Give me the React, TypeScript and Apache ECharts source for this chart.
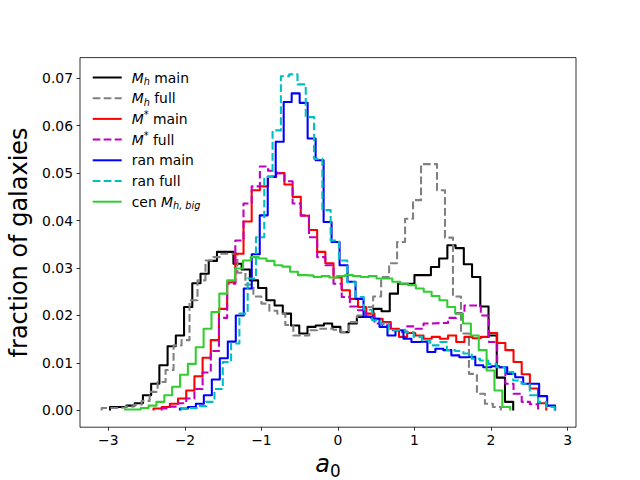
import React, { useEffect, useRef } from "react";
import * as echarts from "echarts";

const FONT = "DejaVu Sans";

const seriesNames = ["Mh main", "Mh full", "M* main", "M* full", "ran main", "ran full", "cen Mh,big"];
const seriesColors = ["#000000", "#808080", "#ff0000", "#bf00bf", "#0000ff", "#00bfbf", "#32cd32"];
const seriesDashed = [false, true, false, true, false, true, false];

// histogram bin layout (left edge of first bin, bin width) for each series, in a0 units
const binStarts = [-2.978, -3.0865, -2.4097, -2.3028, -2.0648, -2.0465, -2.7821];
const binWidths = [0.1075, 0.1043, 0.1069, 0.1069, 0.1043, 0.1084, 0.1027];

const mhMain = [
  0.0007, 0.0007, 0.001, 0.0015, 0.0032, 0.0056, 0.0095, 0.0135, 0.0158, 0.0218,
  0.0268, 0.0288, 0.0315, 0.0334, 0.0334, 0.0309, 0.0297, 0.0274, 0.0258, 0.0232,
  0.0221, 0.0204, 0.0179, 0.0162, 0.0176, 0.0179, 0.0183, 0.0176, 0.0165, 0.0183,
  0.0197, 0.0197, 0.0214, 0.0209, 0.0246, 0.0267, 0.0267, 0.0285, 0.0285, 0.0302,
  0.032, 0.0348, 0.0342, 0.0308, 0.0281, 0.0219, 0.0158, 0.0069, 0.0018,
];
const mhFull = [
  0.0005, 0.0005, 0.0006, 0.0008, 0.0012, 0.002, 0.0039, 0.006, 0.0085, 0.0137,
  0.0148, 0.0232, 0.0274, 0.0316, 0.0323, 0.033, 0.033, 0.029, 0.0265, 0.024,
  0.0225, 0.021, 0.0204, 0.018, 0.0158, 0.0158, 0.0169, 0.0172, 0.0172, 0.017,
  0.0165, 0.0186, 0.02, 0.0218, 0.024, 0.0281, 0.031, 0.0355, 0.0404, 0.0443,
  0.0519, 0.0519, 0.0464, 0.0364, 0.024, 0.0162, 0.0077, 0.0035, 0.0014, 0.0007,
];
const msMain = [
  0.0004, 0.0007, 0.0014, 0.0025, 0.0042, 0.0072, 0.0111, 0.0148, 0.0214, 0.027,
  0.033, 0.0398, 0.0464, 0.0472, 0.0492, 0.05, 0.0476, 0.045, 0.041, 0.038,
  0.0334, 0.031, 0.028, 0.0253, 0.0235, 0.0218, 0.0204, 0.0193, 0.0186, 0.0172,
  0.0155, 0.0163, 0.0158, 0.0151, 0.0155, 0.0151, 0.0158, 0.0144, 0.0155, 0.0152,
  0.0155, 0.0163, 0.0142, 0.0127, 0.0102, 0.0076, 0.0046, 0.0015,
];
const msFull = [
  0.0004, 0.0008, 0.0015, 0.0025, 0.0045, 0.008, 0.0125, 0.0195, 0.0267,
  0.0358, 0.0436, 0.0472, 0.0514, 0.0505, 0.05, 0.0483, 0.0436, 0.0411, 0.0365,
  0.0323, 0.0306, 0.0267, 0.0239, 0.0219, 0.0211, 0.0197, 0.0183, 0.018, 0.0169,
  0.0165, 0.0177, 0.0172, 0.0183, 0.0184, 0.0184, 0.0195, 0.0205, 0.0221, 0.0221,
  0.02, 0.0144, 0.0091, 0.0056, 0.0035, 0.0018, 0.0013,
];
const ranMain = [
  0.0004, 0.0007, 0.0014, 0.0032, 0.0065, 0.011, 0.0145, 0.02, 0.0257, 0.0329,
  0.0411, 0.0492, 0.0566, 0.065, 0.0668, 0.0648, 0.0573, 0.0527, 0.0397, 0.0355,
  0.0306, 0.0271, 0.0235, 0.0197, 0.0193, 0.0176, 0.0158, 0.0169, 0.0151, 0.0144,
  0.0145, 0.0123, 0.013, 0.0127, 0.0116, 0.0112, 0.0113, 0.0095, 0.0091, 0.0093,
  0.0091, 0.0077, 0.007, 0.0056, 0.0056, 0.003, 0.001,
];
const ranFull = [
  0.0003, 0.0005, 0.0009, 0.0018, 0.0045, 0.0102, 0.0141, 0.0204, 0.0278, 0.0365,
  0.0492, 0.059, 0.0704, 0.0708, 0.0687, 0.0618, 0.053, 0.0422, 0.0358, 0.0316,
  0.027, 0.0239, 0.0212, 0.019, 0.0183, 0.0169, 0.017, 0.0165, 0.0155, 0.0148,
  0.0137, 0.0144, 0.0127, 0.0125, 0.012, 0.0109, 0.0105, 0.0098, 0.0091, 0.0081,
  0.0063, 0.0056, 0.0032, 0.0018, 0.0007,
];
const cenMhBig = [
  0.0002, 0.0002, 0.0005, 0.001, 0.0018, 0.0032, 0.005, 0.0075, 0.0098, 0.0133,
  0.0172, 0.0207, 0.0246, 0.0274, 0.0299, 0.0316, 0.0323, 0.032, 0.0315, 0.0306,
  0.0303, 0.0292, 0.0285, 0.0284, 0.0281, 0.0283, 0.028, 0.0283, 0.0285, 0.0283,
  0.0281, 0.0283, 0.0278, 0.0278, 0.0271, 0.0267, 0.0264, 0.0257, 0.025, 0.0241,
  0.0232, 0.0218, 0.0204, 0.0183, 0.0158, 0.0127, 0.0084, 0.0042, 0.0007,
];

const seriesValues = [mhMain, mhFull, msMain, msFull, ranMain, ranFull, cenMhBig];

const legendLabels: Record<string, string> = {
  "Mh main": "{i|M}{s|h} main",
  "Mh full": "{i|M}{s|h} full",
  "M* main": "{i|M}{p|*} main",
  "M* full": "{i|M}{p|*} full",
  "ran main": "ran main",
  "ran full": "ran full",
  "cen Mh,big": "cen {i|M}{s|h, big}",
};

const xTicks = [-3, -2, -1, 0, 1, 2, 3];
const yTicks = [0, 0.01, 0.02, 0.03, 0.04, 0.05, 0.06, 0.07];
const xRange = [-3.37, 3.11];
const yRange = [-0.00354, 0.07434];

function outline(start: number, width: number, vals: number[]) {
  const pts: number[][] = [[start, 0]];
  vals.forEach((v, i) => {
    const x0 = start + i * width;
    pts.push([x0, v], [x0 + width, v]);
  });
  pts.push([start + vals.length * width, 0]);
  return pts;
}

export default function App() {
  const ref = useRef<HTMLDivElement>(null);
  useEffect(() => {
    if (!ref.current) return;
    const chart = echarts.init(ref.current, null, { renderer: "svg", width: 640, height: 480 });
    const tickStyle = { color: "#000", width: 0.8 };
    const series = seriesNames.map((name, k) => ({
      name,
      type: "line",
      data: outline(binStarts[k], binWidths[k], seriesValues[k]),
      symbol: "none",
      showSymbol: false,
      clip: true,
      lineStyle: {
        color: seriesColors[k],
        width: 2.08,
        type: seriesDashed[k] ? [7.7, 3.3] : "solid",
        join: "round",
      },
      itemStyle: { color: seriesColors[k] },
      emphasis: { disabled: true },
    }));
    chart.setOption({
      animation: false,
      backgroundColor: "#ffffff",
      grid: {
        left: 80,
        right: 64,
        top: 57.6,
        bottom: 52.8,
        outerBoundsMode: "none",
        containLabel: false,
        show: true,
        borderColor: "#000",
        borderWidth: 0.8,
        backgroundColor: "transparent",
      },
      legend: {
        data: seriesNames,
        orient: "vertical",
        left: 91.7,
        top: 68.5,
        padding: 0,
        itemWidth: 29,
        itemHeight: 18,
        itemGap: 2.7,
        selectedMode: false,
        itemStyle: { opacity: 0 },
        formatter: (name: string) => legendLabels[name] || name,
        textStyle: {
          fontFamily: FONT,
          fontSize: 13.9,
          color: "#000",
          lineHeight: 18,
          padding: [0, 0, 0, 5],
          rich: {
            i: { fontFamily: FONT, fontStyle: "italic", fontSize: 13.9, lineHeight: 18, color: "#000" },
            s: { fontFamily: FONT, fontStyle: "italic", fontSize: 9.7, color: "#000", verticalAlign: "bottom" },
            p: { fontFamily: FONT, fontSize: 9.7, color: "#000", verticalAlign: "top" },
          },
        },
      },
      xAxis: {
        type: "value",
        min: xRange[0],
        max: xRange[1],
        name: "{i|a}{s|0}",
        nameLocation: "middle",
        nameGap: 15,
        nameTextStyle: {
          fontFamily: FONT,
          fontSize: 24,
          color: "#000",
          rich: {
            i: { fontFamily: FONT, fontStyle: "italic", fontSize: 24, lineHeight: 30, color: "#000" },
            s: { fontFamily: FONT, fontSize: 16.8, color: "#000", verticalAlign: "bottom" },
          },
        },
        axisLine: { show: false, onZero: false },
        splitLine: { show: false },
        axisTick: { show: true, length: 3.5, lineStyle: tickStyle, customValues: xTicks },
        axisLabel: {
          customValues: xTicks,
          formatter: (v: number) => String(v).replace("-", "\u2212"),
          fontFamily: FONT,
          fontSize: 13.9,
          color: "#000",
          margin: 6,
        },
      },
      yAxis: {
        type: "value",
        min: yRange[0],
        max: yRange[1],
        name: "fraction of galaxies",
        nameLocation: "middle",
        nameRotate: 90,
        nameGap: 38,
        nameTextStyle: { fontFamily: FONT, fontSize: 24, color: "#000" },
        axisLine: { show: false, onZero: false },
        splitLine: { show: false },
        axisTick: { show: true, length: 3.5, lineStyle: tickStyle, customValues: yTicks },
        axisLabel: {
          customValues: yTicks,
          formatter: (v: number) => v.toFixed(2),
          fontFamily: FONT,
          fontSize: 13.9,
          color: "#000",
          margin: 7,
        },
      },
      series,
    });
    return () => chart.dispose();
  }, []);
  return (
    <div
      ref={ref}
      style={{ position: "absolute", left: 0, top: 0, width: 640, height: 480, background: "#fff" }}
    />
  );
}
